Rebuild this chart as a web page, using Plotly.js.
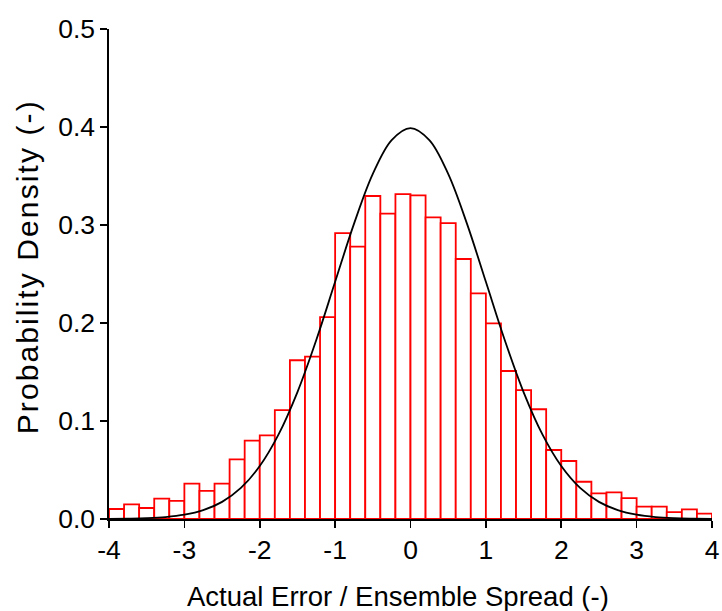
<!DOCTYPE html>
<html>
<head>
<meta charset="utf-8">
<script src="https://cdn.plot.ly/plotly-3.0.1.min.js"></script>
<style>
html,body{margin:0;padding:0;background:#fff;}
#chart{width:722px;height:611px;}
#chart g.annotation[data-index="1"] text{letter-spacing:2.1px;}
</style>
</head>
<body>
<div id="chart"></div>
<script>
// Histogram bin centers (bin width 0.2 from -4 to 4)
const binCenters = [-3.9,-3.7,-3.5,-3.3,-3.1,-2.9,-2.7,-2.5,-2.3,-2.1,-1.9,-1.7,-1.5,-1.3,-1.1,-0.9,-0.7,-0.5,-0.3,-0.1,
                    0.1,0.3,0.5,0.7,0.9,1.1,1.3,1.5,1.7,1.9,2.1,2.3,2.5,2.7,2.9,3.1,3.3,3.5,3.7,3.9];
const densities = [0.0102,0.0150,0.0112,0.0207,0.0184,0.0360,0.0286,0.0360,0.0609,0.0800,0.0854,0.1110,0.1620,0.1656,0.2060,0.2918,0.2779,0.3296,0.3116,0.3316,
                   0.3303,0.3077,0.3020,0.2653,0.2303,0.1997,0.1510,0.1316,0.1120,0.0704,0.0592,0.0380,0.0262,0.0272,0.0214,0.0126,0.0126,0.0071,0.0099,0.0054];
// Reference curve
const curveX = [-4,-3.75,-3.5,-3.25,-3,-2.75,-2.5,-2.25,-2,-1.75,-1.5,-1.25,-1,-0.75,-0.5,-0.25,0,
                0.25,0.5,0.75,1,1.25,1.5,1.75,2,2.25,2.5,2.75,3,3.25,3.5,3.75,4];
const curveY = [0.0001,0.0004,0.0009,0.0020,0.0044,0.0091,0.0175,0.0317,0.0540,0.0863,0.1295,0.1826,0.2420,0.3011,0.3521,0.3867,0.3989,
                0.3867,0.3521,0.3011,0.2420,0.1826,0.1295,0.0863,0.0540,0.0317,0.0175,0.0091,0.0044,0.0020,0.0009,0.0004,0.0001];
const xTicks = [-4,-3,-2,-1,0,1,2,3,4];
const yTicks = [0,0.1,0.2,0.3,0.4,0.5];
const yTickText = ['0.0','0.1','0.2','0.3','0.4','0.5'];
const xTitle = 'Actual Error / Ensemble Spread (-)';
const yTitle = 'Probability Density (-)';

const font = 'Liberation Sans, Arial, sans-serif';
const data = [
  {type:'bar', x:binCenters, y:densities, width:0.2,
   marker:{color:'rgba(255,255,255,1)', line:{color:'#ff0000', width:1.8}},
   hoverinfo:'x+y', showlegend:false},
  {type:'scatter', mode:'lines', x:curveX, y:curveY,
   line:{color:'#000000', width:1.8, shape:'spline'}, showlegend:false}
];
const layout = {
  width:722, height:611,
  margin:{l:109, r:10, t:29, b:92},
  paper_bgcolor:'#fff', plot_bgcolor:'#fff',
  bargap:0,
  font:{family:font, size:26, color:'#000'},
  xaxis:{range:[-4,4], tickvals:xTicks, ticktext:xTicks.map(String),
         showgrid:false, zeroline:false, showline:true, linecolor:'#000', linewidth:1.6,
         ticks:'outside', ticklen:7, tickwidth:1.6, tickcolor:'#000',
         tickfont:{family:font, size:26.5, color:'#000'}},
  yaxis:{range:[0,0.5], tickvals:yTicks, ticktext:yTickText,
         showgrid:false, zeroline:false, showline:true, linecolor:'#000', linewidth:1.6,
         ticks:'outside', ticklen:7, tickwidth:1.6, tickcolor:'#000',
         tickfont:{family:font, size:26.5, color:'#000'}},
  annotations:[
    {text:xTitle, xref:'paper', yref:'paper', x:0.479, y:-0.159, xanchor:'center', yanchor:'middle',
     showarrow:false, font:{family:font, size:27.5, color:'#000'}},
    {text:yTitle, xref:'paper', yref:'paper', x:-0.136, y:0.516, xanchor:'center', yanchor:'middle',
     textangle:-90, showarrow:false, font:{family:font, size:30, color:'#000'}}
  ]
};
Plotly.newPlot('chart', data, layout, {displayModeBar:false, staticPlot:true});
</script>
</body>
</html>
